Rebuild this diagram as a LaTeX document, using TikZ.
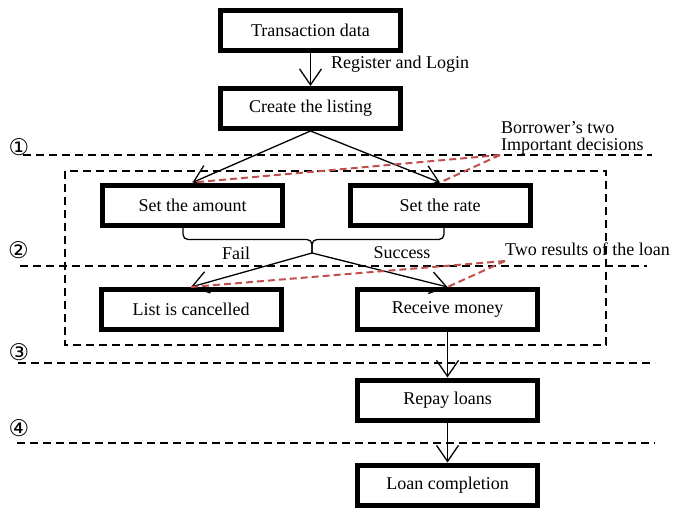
\documentclass[tikz,border=0pt]{standalone}
\usepackage{fontspec}
\setmainfont{Liberation Serif}
\newfontfamily\circfont{DejaVu Sans}
\usetikzlibrary{arrows.meta,calc}
\definecolor{redline}{HTML}{C0504D}
\begin{document}
\begin{tikzpicture}[x=1pt,y=-1pt,
  box/.style={draw, line width=5pt, fill=white, minimum width=180pt, minimum height=40pt, inner sep=0pt, font=\fontsize{18}{20}\selectfont},
  lbl/.style={inner sep=0pt, font=\fontsize{18}{17}\selectfont},
  num/.style={inner sep=0pt, font=\circfont\fontsize{23}{23}\selectfont},
  arr/.style={line width=1.3pt, -{Straight Barb[length=16pt,width=22pt]}},
  sep/.style={line width=1.5pt, dash pattern=on 8pt off 5pt},
  redd/.style={draw=redline, line width=2pt, dash pattern=on 7pt off 4pt}]
\useasboundingbox (0,0) rectangle (676,509);
% separators and group box
\draw[sep] (23,155) -- (652,155);
\draw[sep] (20,266) -- (647,266);
\draw[sep] (18,363) -- (655,363);
\draw[sep] (17,443) -- (655,443);
\draw[sep] (65,171) rectangle (606,345);
\node[num] (n1) at (19,147) {①};
\node[num] (n2) at (18.5,250) {②};
\node[num] (n3) at (19,352) {③};
\node[num] (n4) at (19,428) {④};
% boxes
\node[box] (td) at (310.5,30) {Transaction data};
\node[box] (cl) at (310.5,108.5) {Create the listing};
\node[box] (amt) at (192.5,205) {Set the amount};
\node[box] (rate) at (440,205) {Set the rate};
\node[box] (canc) at (191,309.5) {List is cancelled};
\node[box] (recv) at (447.5,309.5) {Receive money};
\node[box] (repay) at (447.5,400) {Repay loans};
\node[box] (done) at (447.5,485) {Loan completion};
% labels
\node[lbl, anchor=west] (reg) at (331,64) {Register and Login};
\node[lbl, anchor=west, align=left] (bor) at (501,138) {Borrower’s two\\Important decisions};
\node[lbl, anchor=west] (two) at (505,249) {Two results of the loan};
\node[lbl] (fail) at (236,253) {Fail};
\node[lbl] (succ) at (402,253) {Success};
% coordinates
\coordinate (tip) at (312,253);
\coordinate (dec) at (500,155);
\coordinate (res) at (505,261);
% connectors
\draw[arr] (td) -- (cl);
\draw[arr] (cl.south) -- (amt.north);
\draw[arr] (cl.south) -- (rate.north);
\draw[line width=1.3pt, rounded corners=5pt] ($(amt.south)+(-9.5,0)$) -- ++(0,12) -| (tip);
\draw[line width=1.3pt, rounded corners=5pt] ($(rate.south)+(4,0)$) -- ++(0,12) -| (tip);
\draw[arr] (tip) -- (canc.north);
\draw[arr] (tip) -- (recv.north);
\draw[arr] (recv) -- (repay);
\draw[arr] (repay) -- (done);
% red dashed pointers
\draw[redd] (dec) -- (amt.north);
\draw[redd] (dec) -- (rate.north);
\draw[redd] (res) -- (canc.north);
\draw[redd] (res) -- (recv.north);
\end{tikzpicture}
\end{document}
